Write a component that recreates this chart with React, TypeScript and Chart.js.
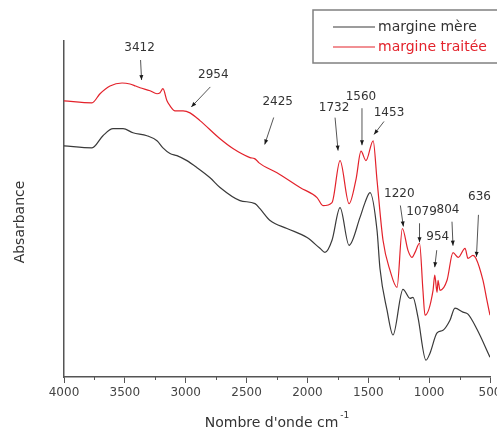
import React, { useEffect, useRef } from "react";
import { Chart, registerables } from "chart.js";

Chart.register(...registerables);

// FTIR spectra: wavenumber (cm-1) and absorbance (arbitrary units)
const wavenumbersMere = [
  4000, 3770, 3680, 3597, 3515, 3433, 3318, 3236, 3187, 3129, 3072, 2990, 2907, 2800, 2718,
  2554, 2431, 2390, 2307, 2168, 2003, 1897, 1856, 1798, 1732, 1658, 1568, 1527, 1486, 1428,
  1404, 1346, 1297, 1215, 1157, 1133, 1092, 1026, 993, 935, 886, 829, 788, 722, 681, 607, 500,
];
const absorbanceMere = [
  0.688, 0.682, 0.718, 0.739, 0.739, 0.727, 0.718, 0.703, 0.682, 0.665, 0.659, 0.644, 0.623, 0.593, 0.564,
  0.525, 0.516, 0.501, 0.466, 0.442, 0.415, 0.383, 0.371, 0.407, 0.504, 0.392, 0.475, 0.519, 0.549, 0.436,
  0.323, 0.199, 0.125, 0.261, 0.234, 0.237, 0.178, 0.05, 0.071, 0.131, 0.139, 0.169, 0.205, 0.193, 0.187, 0.142, 0.059,
];

const wavenumbersTraitee = [
  4000, 3770, 3704, 3622, 3523, 3458, 3412, 3376, 3293, 3236, 3211, 3187, 3154, 3129, 3088,
  3022, 2965, 2883, 2718, 2612, 2472, 2435, 2420, 2400, 2250, 2061, 1921, 1872, 1798, 1732,
  1658, 1600, 1560, 1519, 1460, 1428, 1379, 1322, 1264, 1220, 1174, 1141, 1116, 1079, 1051,
  1034, 968, 954, 935, 927, 911, 853, 804, 760, 705, 681, 640, 615, 558, 525, 500,
];
const absorbanceTraitee = [
  0.822, 0.816, 0.843, 0.866, 0.875, 0.872, 0.866, 0.861, 0.852, 0.843, 0.846, 0.858, 0.822, 0.807, 0.792,
  0.792, 0.786, 0.763, 0.709, 0.68, 0.653, 0.65, 0.646, 0.638, 0.608, 0.564, 0.534, 0.51, 0.519, 0.644,
  0.516, 0.59, 0.672, 0.644, 0.703, 0.585, 0.407, 0.318, 0.267, 0.442, 0.377, 0.356, 0.371, 0.398, 0.258,
  0.184, 0.258, 0.303, 0.252, 0.288, 0.258, 0.288, 0.37, 0.356, 0.383, 0.353, 0.362, 0.353, 0.288, 0.228, 0.184,
];

// Band assignments marked on the treated sample
const peakLabels = ["3412", "2954", "2425", "1732", "1560", "1453", "1220", "1079", "954", "804", "636"];
const peakWavenumbers = [3412, 2954, 2425, 1732, 1560, 1453, 1220, 1079, 954, 804, 636];

const seriesLabels = ["margine mère", "margine traitée"];
const xTickValues = [4000, 3500, 3000, 2500, 2000, 1500, 1000, 500];

const FONT = "'DejaVu Sans', 'Liberation Sans', Arial, sans-serif";
const BLACK = "#3a3a3a";
const RED = "#e3222b";

// Arrow placement: tip offset from the curve point, tail and text relative to the tip
const arrowLayout: Record<string, { tip: [number, number]; tail: [number, number]; text: [number, number] }> = {
  "3412": { tip: [6, -6], tail: [-1, -20], text: [-2, -32] },
  "2954": { tip: [0, -7], tail: [19, -20], text: [22, -32] },
  "2425": { tip: [9, -15], tail: [9, -27], text: [13, -43] },
  "1732": { tip: [-2, -10], tail: [-3, -33], text: [-4, -43] },
  "1560": { tip: [1, -6], tail: [0, -37], text: [-1, -48] },
  "1453": { tip: [0, -15], tail: [10, -13], text: [15, -22] },
  "1220": { tip: [1, -2], tail: [-3, -21], text: [-4, -33] },
  "1079": { tip: [0, -1], tail: [0, -19], text: [2, -30] },
  "954": { tip: [0, -8], tail: [2, -17], text: [3, -30] },
  "804": { tip: [0, -7], tail: [-1, -24], text: [-5, -36] },
  "636": { tip: [3, 1], tail: [2, -42], text: [3, -60] },
};

function toPoints(xs: number[], ys: number[]) {
  return xs.map((x, i) => ({ x, y: ys[i] }));
}

function interpolate(xs: number[], ys: number[], x: number) {
  for (let i = 0; i < xs.length - 1; i++) {
    const a = xs[i];
    const b = xs[i + 1];
    if ((x <= a && x >= b) || (x >= a && x <= b)) {
      const t = (x - a) / (b - a || 1);
      return ys[i] + t * (ys[i + 1] - ys[i]);
    }
  }
  return ys[ys.length - 1];
}

const decorations = {
  id: "spectrumDecorations",
  afterDraw(chart: any) {
    const { ctx, chartArea, scales } = chart;
    const xs = scales.x;
    const ys = scales.y;
    ctx.save();

    // minor ticks every 250 cm-1
    ctx.strokeStyle = "#555";
    ctx.lineWidth = 1;
    for (let v = 750; v < 4000; v += 500) {
      const px = Math.round(xs.getPixelForValue(v)) + 0.5;
      ctx.beginPath();
      ctx.moveTo(px, chartArea.bottom);
      ctx.lineTo(px, chartArea.bottom + 3);
      ctx.stroke();
    }

    // peak arrows and labels
    const treated = chart.data.datasets[1].data as { x: number; y: number }[];
    const tx = treated.map((p) => p.x);
    const ty = treated.map((p) => p.y);
    ctx.font = `12px ${FONT}`;
    ctx.textAlign = "center";
    ctx.textBaseline = "middle";
    peakLabels.forEach((label, i) => {
      const wn = peakWavenumbers[i];
      const lay = arrowLayout[label];
      const cx = xs.getPixelForValue(wn);
      const cy = ys.getPixelForValue(interpolate(tx, ty, wn));
      const tipX = cx + lay.tip[0];
      const tipY = cy + lay.tip[1];
      const tailX = tipX + lay.tail[0];
      const tailY = tipY + lay.tail[1];
      ctx.strokeStyle = "#555";
      ctx.lineWidth = 1;
      ctx.beginPath();
      ctx.moveTo(tailX, tailY);
      ctx.lineTo(tipX, tipY);
      ctx.stroke();
      const ang = Math.atan2(tipY - tailY, tipX - tailX);
      ctx.fillStyle = "#1a1a1a";
      ctx.beginPath();
      ctx.moveTo(tipX, tipY);
      ctx.lineTo(tipX - 5 * Math.cos(ang) + 2 * Math.sin(ang), tipY - 5 * Math.sin(ang) - 2 * Math.cos(ang));
      ctx.lineTo(tipX - 5 * Math.cos(ang) - 2 * Math.sin(ang), tipY - 5 * Math.sin(ang) + 2 * Math.cos(ang));
      ctx.closePath();
      ctx.fill();
      ctx.fillStyle = "#333";
      ctx.fillText(label, tipX + lay.text[0], tipY + lay.text[1]);
    });

    // legend box
    ctx.strokeStyle = "#808080";
    ctx.lineWidth = 1.5;
    ctx.strokeRect(313, 10, 200, 53);
    const ds = chart.data.datasets;
    ds.forEach((d: any, i: number) => {
      const y = 27 + i * 20;
      ctx.strokeStyle = d.borderColor;
      ctx.lineWidth = 1.2;
      ctx.beginPath();
      ctx.moveTo(333, y);
      ctx.lineTo(375, y);
      ctx.stroke();
      ctx.fillStyle = i === 0 ? "#333" : RED;
      ctx.font = `14px ${FONT}`;
      ctx.textAlign = "left";
      ctx.textBaseline = "middle";
      ctx.fillText(d.label, 378, y);
    });

    // axis titles
    ctx.fillStyle = "#333";
    ctx.font = `14px ${FONT}`;
    ctx.textBaseline = "middle";
    const main = "Nombre d'onde cm";
    const sup = "-1";
    const mainW = ctx.measureText(main).width;
    ctx.font = `9px ${FONT}`;
    const supW = ctx.measureText(sup).width;
    const startX = (chartArea.left + chartArea.right) / 2 - (mainW + supW + 2) / 2;
    ctx.font = `14px ${FONT}`;
    ctx.textAlign = "left";
    ctx.fillText(main, startX, 423);
    ctx.font = `9px ${FONT}`;
    ctx.fillText(sup, startX + mainW + 2, 416);

    ctx.font = `14px ${FONT}`;
    ctx.translate(20, 222);
    ctx.rotate(-Math.PI / 2);
    ctx.textAlign = "center";
    ctx.fillText("Absarbance", 0, 0);
    ctx.restore();
  },
};

export default function App() {
  const canvasRef = useRef<HTMLCanvasElement | null>(null);

  useEffect(() => {
    if (!canvasRef.current) return;
    const chart = new Chart(canvasRef.current, {
      type: "line",
      data: {
        datasets: [
          {
            label: seriesLabels[0],
            data: toPoints(wavenumbersMere, absorbanceMere),
            borderColor: BLACK,
            borderWidth: 1.2,
            pointRadius: 0,
            cubicInterpolationMode: "monotone",
          },
          {
            label: seriesLabels[1],
            data: toPoints(wavenumbersTraitee, absorbanceTraitee),
            borderColor: RED,
            borderWidth: 1.2,
            pointRadius: 0,
            cubicInterpolationMode: "monotone",
          },
        ],
      },
      options: {
        animation: false,
        responsive: false,
        layout: { padding: { top: 41, right: 7, left: 0, bottom: 0 } },
        plugins: { legend: { display: false }, tooltip: { enabled: false } },
        scales: {
          x: {
            type: "linear",
            reverse: true,
            min: 500,
            max: 4000,
            afterFit: (s: any) => {
              s.height = 57;
              s.paddingLeft = 0;
              s.paddingRight = 0;
            },
            afterBuildTicks: (s: any) => {
              s.ticks = xTickValues.map((v) => ({ value: v }));
            },
            ticks: {
              autoSkip: false,
              maxRotation: 0,
              padding: 3,
              color: "#444",
              font: { family: FONT, size: 12 },
              callback: (v: any) => String(v),
            },
            grid: {
              drawOnChartArea: false,
              tickLength: 6,
              tickColor: "#555",
              tickWidth: 1,
            },
            border: { display: true, color: "#555", width: 1.5 },
          },
          y: {
            min: 0,
            max: 1,
            afterFit: (s: any) => {
              s.width = 64;
            },
            ticks: { display: false },
            grid: { display: false },
            border: { display: true, color: "#555", width: 1.5 },
          },
        },
      },
      plugins: [decorations],
    });
    return () => chart.destroy();
  }, []);

  return (
    <div style={{ position: "absolute", left: 0, top: 0, width: 497, height: 434, background: "#fff" }}>
      <canvas ref={canvasRef} width={497} height={434} style={{ display: "block" }} />
    </div>
  );
}
